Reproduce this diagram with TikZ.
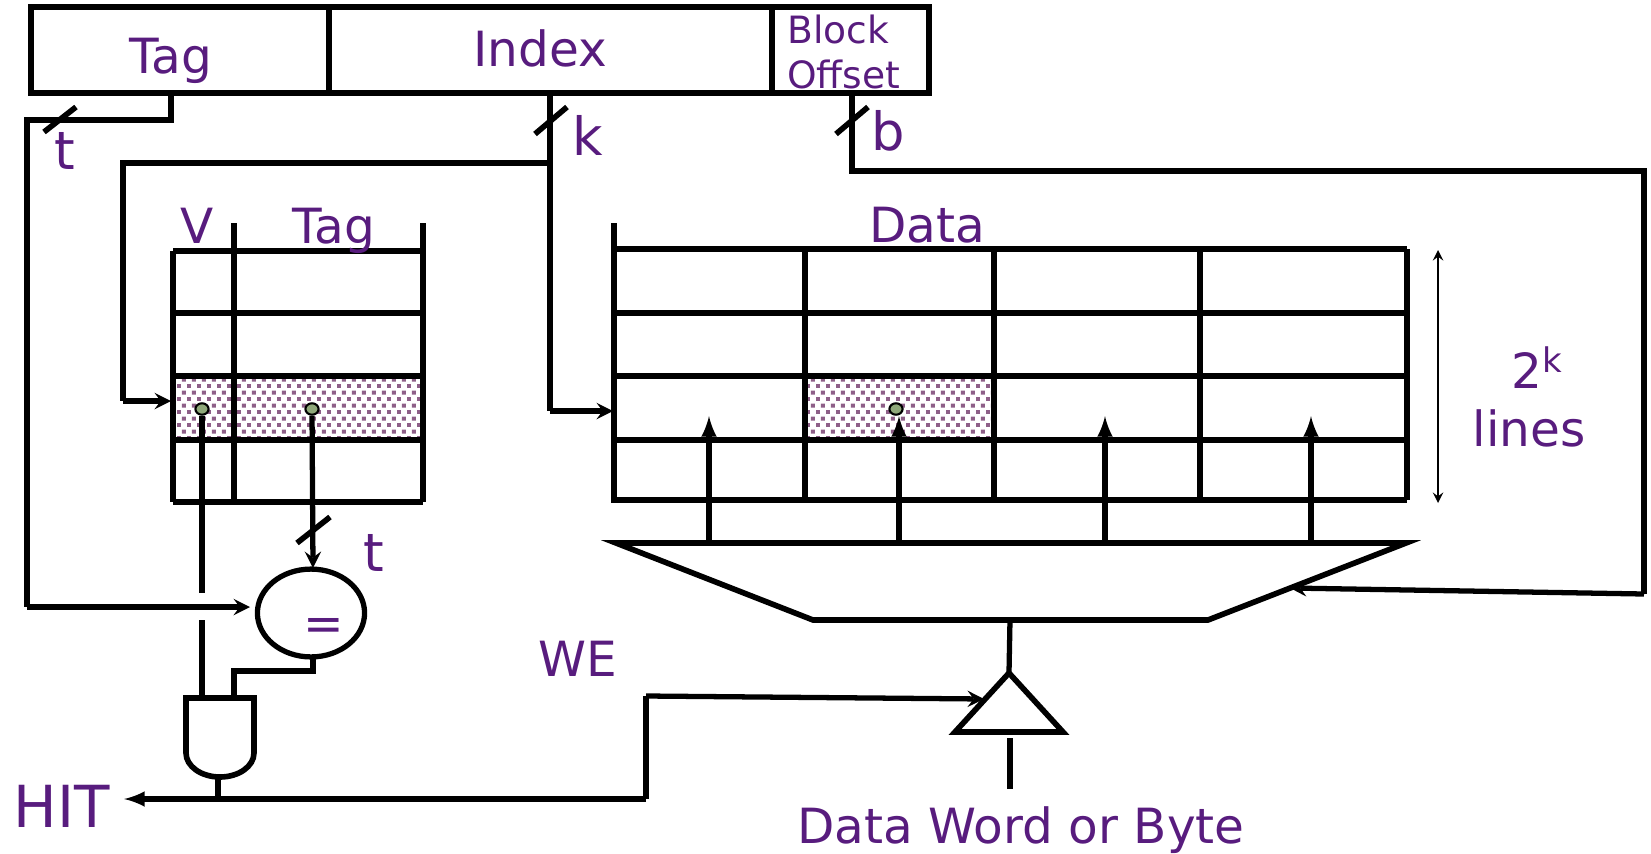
\documentclass[tikz,border=0pt]{standalone}
\usepackage{fontspec}
\setmainfont{DejaVu Sans}
\usetikzlibrary{shapes.geometric,patterns}
\definecolor{labelpurple}{HTML}{581C7E}
\definecolor{dotgreen}{HTML}{8FA87A}
\definecolor{dotmauve}{HTML}{8E5F88}
\pgfdeclarepatternformonly{cachedots}{\pgfqpoint{0pt}{0pt}}{\pgfqpoint{5.6pt}{7.6pt}}{\pgfqpoint{5.6pt}{7.6pt}}{
	\pgfpathrectangle{\pgfqpoint{0pt}{0pt}}{\pgfqpoint{2.3pt}{2.3pt}}
	\pgfpathrectangle{\pgfqpoint{2.8pt}{3.8pt}}{\pgfqpoint{2.3pt}{2.3pt}}
	\pgfusepath{fill}
}
\begin{document}
\begin{tikzpicture}[x=0.02cm,y=-0.02cm]
	    \tikzset{>=stealth}
	    \tikzset{heavy/.style={line width=3.2pt,line join=miter}}
	    \tikzset{wire/.style={line width=3pt}}
	    \tikzset{txt/.style={text=labelpurple,inner sep=0pt,anchor=base,font=\fontsize{27.6}{30}\selectfont}}
	    \tikzset{bigtxt/.style={txt,font=\fontsize{30}{30}\selectfont}}
	    \tikzset{cached/.style={pattern=cachedots,pattern color=dotmauve}}
	    \tikzset{dot/.style={draw,ellipse,fill=dotgreen,line width=1.2pt,inner sep=0pt,minimum width=7.5pt,minimum height=6.5pt}}
	    \useasboundingbox (0,0) rectangle (1651,853);
	    % address
	    \draw[heavy] (31,7) rectangle (929,93);
	    \draw[heavy] (329,7) -- (329,93);
	    \draw[heavy] (772,7) -- (772,93);
	    \node[txt] (addrtag) at (171,73) {Tag};
	    \node[txt] (addrindex) at (540,66) {Index};
	    \node[txt,anchor=base west,font=\fontsize{21.4}{25}\selectfont] (addrblock) at (787,43) {Block};
	    \node[txt,anchor=base west,font=\fontsize{21.4}{25}\selectfont] (addroffset) at (787,88) {Offset};
	    % tag store
	    \fill[cached] (173,376) rectangle (423,440);
	    \draw[heavy] (173,251) -- (423,251);
	    \draw[heavy] (173,313) -- (423,313);
	    \draw[heavy] (173,376) -- (423,376);
	    \draw[heavy] (173,440) -- (423,440);
	    \draw[heavy] (173,502) -- (423,502);
	    \draw[heavy] (173,251) -- (173,502);
	    \draw[heavy] (234,223) -- (234,502);
	    \draw[heavy] (423,223) -- (423,502);
	    \node[txt] (vhead) at (197,243) {V};
	    \node[txt] (taghead) at (334,243) {Tag};
	    \node[dot] (vdot) at (202,409) {};
	    \node[dot] (tagdot) at (312,409) {};
	    % data store
	    \fill[cached] (805,376) rectangle (994,440);
	    \draw[heavy] (614,249) -- (1407,249);
	    \draw[heavy] (614,313) -- (1407,313);
	    \draw[heavy] (614,376) -- (1407,376);
	    \draw[heavy] (614,440) -- (1407,440);
	    \draw[heavy] (614,500) -- (1407,500);
	    \draw[heavy] (614,223) -- (614,503);
	    \draw[heavy] (805,249) -- (805,503);
	    \draw[heavy] (994,249) -- (994,503);
	    \draw[heavy] (1200,249) -- (1200,503);
	    \draw[heavy] (1407,249) -- (1407,500);
	    \node[txt] (datahead) at (927,242) {Data};
	    \node[dot] (datadot) at (896,409) {};
	    % mux
	    \draw[heavy] (616,543) -- (1406,543) -- (1208,620) -- (813,620) -- cycle;
	    \coordinate (mux1) at (709,543);
	    \coordinate (mux2) at (899,543);
	    \coordinate (mux3) at (1105,543);
	    \coordinate (mux4) at (1311,543);
	    \draw[wire,-latex] (mux1) -- (709,416);
	    \draw[wire,-latex] (mux2) -- (899,416);
	    \draw[wire,-latex] (mux3) -- (1105,416);
	    \draw[wire,-latex] (mux4) -- (1311,416);
	    \draw[line width=1.6pt,<->] (1438,250) -- (1438,503);
	    \node[txt] (lines2k) at (1537,388) {2\textsuperscript{k}};
	    \node[txt] (lineslbl) at (1529,446) {lines};
	    % tag wire
	    \coordinate (tagout) at (171,93);
	    \coordinate (tagc1) at (171,120);
	    \coordinate (tagc2) at (27,120);
	    \coordinate (tagc3) at (27,607);
	    \coordinate (cmpin) at (250,607);
	    \node[draw,ellipse,line width=3pt,minimum width=61pt,minimum height=50pt,inner sep=0pt] (cmp) at (311,613) {};
	    \node[txt] (cmpeq) at (324,640) {=};
	    \draw[wire] (tagout) -- (tagc1) -- (tagc2) -- (tagc3);
	    \draw[wire,->] (tagc3) -- (cmpin);
	    \draw[heavy] (44,132) -- (76,107);
	    \node[bigtxt] (tlbl) at (65,169) {t};
	    % index wire
	    \coordinate (idxout) at (550,93);
	    \coordinate (idxj) at (550,163);
	    \coordinate (idxc1) at (550,411);
	    \coordinate (idxin) at (613,411);
	    \coordinate (brc1) at (123,163);
	    \coordinate (brc2) at (123,401);
	    \coordinate (brin) at (171,401);
	    \draw[wire] (idxout) -- (idxj);
	    \draw[wire] (idxj) -- (idxc1);
	    \draw[wire,->] (idxc1) -- (idxin);
	    \draw[wire] (idxj) -- (brc1) -- (brc2);
	    \draw[wire,->] (brc2) -- (brin);
	    \draw[heavy] (535,134) -- (567,107);
	    \node[bigtxt] (klbl) at (588,155) {k};
	    % offset wire
	    \coordinate (offout) at (852,93);
	    \coordinate (offc1) at (852,171);
	    \coordinate (offc2) at (1644,171);
	    \coordinate (offc3) at (1644,594);
	    \coordinate (offin) at (1290,588);
	    \draw[wire] (offout) -- (offc1) -- (offc2) -- (offc3);
	    \draw[wire,->] (offc3) -- (offin);
	    \draw[heavy] (836,134) -- (868,107);
	    \node[bigtxt] (blbl) at (888,150) {b};
	    % compare and hit
	    \coordinate (vup) at (202,593);
	    \coordinate (vlow) at (202,620);
	    \coordinate (and1) at (202,698);
	    \coordinate (and2) at (234,698);
	    \coordinate (andout) at (218,777);
	    \coordinate (hitj) at (218,799);
	    \coordinate (hitc1) at (646,799);
	    \coordinate (hitc2) at (646,696);
	    \coordinate (hitin) at (984,699);
	    \coordinate (hitend) at (124,799);
	    \coordinate (cmptop) at (313,568);
	    \coordinate (cmpout) at (313,656);
	    \draw[wire] (vdot) -- (vup);
	    \draw[wire] (vlow) -- (and1);
	    \draw[wire,->] (tagdot) -- (cmptop);
	    \draw[heavy] (297,543) -- (330,517);
	    \node[bigtxt] (t2lbl) at (374,571) {t};
	    \draw[wire] (cmpout) -- (313,671) -- (234,671) -- (and2);
	    \draw[heavy] (186,698) -- (254,698) -- (254,753) arc[start angle=0,end angle=180,x radius=34,y radius=24] -- cycle;
	    \draw[wire] (andout) -- (hitj);
	    \draw[wire,-latex] (hitc1) -- (hitend);
	    \draw[wire] (hitc1) -- (hitc2);
	    \draw[wire,->] (hitc2) -- (hitin);
	    \node[txt,font=\fontsize{33}{33}\selectfont] (hitlbl) at (62,827) {HIT};
	    \node[txt] (welbl) at (578,676) {WE};
	    % tri-state driver
	    \coordinate (drvtop) at (1010,620);
	    \coordinate (drvapex) at (1009,673);
	    \coordinate (drvlow) at (1010,738);
	    \coordinate (drvend) at (1010,789);
	    \draw[wire] (drvtop) -- (drvapex);
	    \draw[heavy] (drvapex) -- (1063,732) -- (955,732) -- cycle;
	    \draw[wire] (drvlow) -- (drvend);
	    \node[txt] (wordlbl) at (1021,843) {Data Word or Byte};
	\end{tikzpicture}
\end{document}
